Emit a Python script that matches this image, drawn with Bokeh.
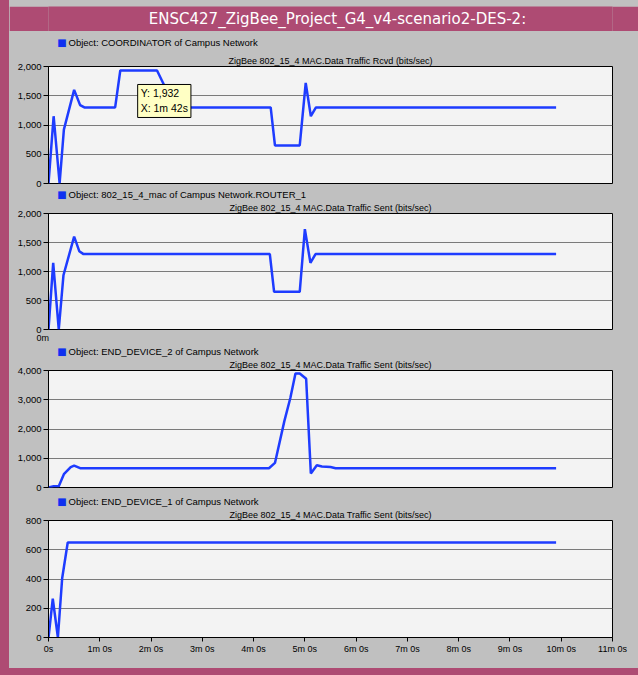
from bokeh.plotting import figure
from bokeh.models import (Label, FixedTicker, NumeralTickFormatter, Range1d, ColumnDataSource, Title)
from bokeh.layouts import column
from bokeh.embed import file_html
from bokeh.resources import INLINE

# ---------------- data ----------------
window_title = "ENSC427_ZigBee_Project_G4_v4-scenario2-DES-2:"

objects = [
    "Object: COORDINATOR of Campus Network",
    "Object: 802_15_4_mac of Campus Network.ROUTER_1",
    "Object: END_DEVICE_2 of Campus Network",
    "Object: END_DEVICE_1 of Campus Network",
]
statistics = [
    "ZigBee 802_15_4 MAC.Data Traffic Rcvd (bits/sec)",
    "ZigBee 802_15_4 MAC.Data Traffic Sent (bits/sec)",
    "ZigBee 802_15_4 MAC.Data Traffic Sent (bits/sec)",
    "ZigBee 802_15_4 MAC.Data Traffic Sent (bits/sec)",
]

# time in seconds, values in bits/sec
coord_t = [0, 6, 13, 18, 30, 37, 42, 78, 84, 127, 148, 260, 265, 294, 301, 307, 313, 594]
coord_v = [0, 1150, 0, 920, 1600, 1340, 1300, 1300, 1932, 1932, 1300, 1300, 650, 650, 1720, 1150, 1300, 1300]

router_t = [0, 5.5, 12, 17.5, 30, 36, 41, 259, 264, 294, 300, 306.5, 312.5, 594]
router_v = [0, 1150, 0, 935, 1600, 1350, 1300, 1300, 650, 650, 1730, 1150, 1300, 1300]

ed2_t = [0, 6, 12, 18, 26, 30, 37, 258, 265, 276, 283, 289, 294, 301.5, 307, 314, 320, 330, 336, 594]
ed2_v = [0, 40, 40, 455, 700, 750, 660, 660, 840, 2270, 3060, 3900, 3900, 3720, 480, 760, 720, 700, 660, 660]

ed1_t = [0, 5, 11, 16, 22.5, 594]
ed1_v = [0, 265, 0, 405, 650, 650]

y_max = [2000, 2000, 4000, 800]
y_step = [500, 500, 1000, 200]

x_ticks = [0, 60, 120, 180, 240, 300, 360, 420, 480, 540, 600, 660]
x_tick_labels = ["0s", "1m 0s", "2m 0s", "3m 0s", "4m 0s", "5m 0s",
                 "6m 0s", "7m 0s", "8m 0s", "9m 0s", "10m 0s", "11m 0s"]

tooltip_t = 102
tooltip_v = 1932
tooltip_text = "Y: 1,932\nX: 1m 42s"

# ---------------- style / layout ----------------
EDGE = 9            # pink window edge on the left
BOTTOM_EDGE = 7     # pink window edge at the bottom
W = 638 - EDGE
PINK = "#AE4B73"
GRAY = "#C0C0C0"
PLOT_BG = "#F3F3F3"
LINE = "#1E3CFF"
FONT = "Liberation Sans"
LEFT, RIGHT = 48 - EDGE, 26

series = [(coord_t, coord_v), (router_t, router_v), (ed2_t, ed2_v), (ed1_t, ed1_v)]
legend_h = [19, 12, 12, 12]
legend_y = [8, 6.5, 6.5, 6.5]
heights = [138, 145, 138, 161]
tops = [16, 12, 12, 12]
bottoms = [5, 16, 8, 31]


def blank(h, color):
    f = figure(width=W, height=h, x_range=Range1d(0, 1), y_range=Range1d(0, 1),
               x_axis_location=None, y_axis_location=None, toolbar_location=None,
               output_backend="svg", min_border_left=LEFT, min_border_right=RIGHT,
               min_border_top=0, min_border_bottom=0)
    f.background_fill_color = color
    f.border_fill_color = color
    f.outline_line_color = None
    f.xgrid.visible = False
    f.ygrid.visible = False
    return f


figs = [blank(6, "white")]

# title bar
tb = blank(25, PINK)
tb.add_layout(Label(x=289, y=12.5, x_units="screen", y_units="screen", text=window_title,
                    text_align="center", text_baseline="middle", text_color="white",
                    text_font="DejaVu Sans", text_font_size="15px"))
figs.append(tb)

for i in range(4):
    last = (i == 3)

    # object legend row
    lg = blank(legend_h[i], GRAY)
    lg.add_layout(Label(x=13.5, y=legend_y[i], x_units="screen", y_units="screen", text="■",
                        text_align="center", text_baseline="middle", text_color="#1030F0",
                        text_font="DejaVu Sans", text_font_size="10px"))
    lg.add_layout(Label(x=20, y=legend_y[i], x_units="screen", y_units="screen", text=objects[i],
                        text_align="left", text_baseline="middle", text_color="black",
                        text_font=FONT, text_font_size="9.5px"))
    figs.append(lg)

    p = figure(width=W, height=heights[i], x_range=Range1d(0, 660), y_range=Range1d(0, y_max[i]),
               output_backend="svg", toolbar_location=None,
               x_axis_location="below" if last else None,
               min_border_left=LEFT, min_border_right=RIGHT,
               min_border_top=tops[i], min_border_bottom=bottoms[i],
               title=None)
    p.background_fill_color = PLOT_BG
    p.border_fill_color = GRAY
    p.outline_line_color = "black"
    p.outline_line_width = 1

    p.xgrid.visible = False
    p.ygrid.grid_line_color = "#7A7A7A"
    p.ygrid.grid_line_width = 1
    p.ygrid.ticker = FixedTicker(ticks=list(range(0, y_max[i] + 1, y_step[i])))

    ya = p.yaxis[0]
    ya.ticker = FixedTicker(ticks=list(range(0, y_max[i] + 1, y_step[i])))
    ya.formatter = NumeralTickFormatter(format="0,0")
    ya.major_label_text_font = FONT
    ya.major_label_text_font_size = "9.5px"
    ya.major_label_text_color = "black"
    ya.major_tick_out = 5
    ya.major_tick_in = 0
    ya.minor_tick_out = 0
    ya.minor_tick_in = 0
    ya.major_label_standoff = 2
    ya.axis_line_color = "black"

    if last:
        xa = p.xaxis[0]
        xa.ticker = FixedTicker(ticks=x_ticks)
        xa.major_label_overrides = {t: l for t, l in zip(x_ticks, x_tick_labels)}
        xa.major_label_text_font = FONT
        xa.major_label_text_font_size = "9px"
        xa.major_label_text_color = "black"
        xa.major_tick_out = 4
        xa.major_tick_in = 0
        xa.minor_tick_out = 0
        xa.minor_tick_in = 0
        xa.major_label_standoff = 2
        xa.axis_line_color = "black"

    t, v = series[i]
    src = ColumnDataSource(data=dict(t=t, v=v))
    p.line("t", "v", source=src, line_color=LINE, line_width=2.5)

    p.add_layout(Title(text=statistics[i], align="center", text_font=FONT, text_font_size="9px",
                       text_font_style="normal", text_color="black", standoff=1), "above")

    if i == 0:
        p.add_layout(Label(x=tooltip_t, y=tooltip_v, x_offset=2, y_offset=-14,
                           text=tooltip_text, text_align="left", text_baseline="top",
                           text_color="black", text_font=FONT, text_font_size="10.5px",
                           text_line_height=1.25,
                           background_fill_color="#FFFFC4", border_line_color="black",
                           padding=3))
    if i == 1:
        p.add_layout(Title(text="0m", align="left", offset=-12, text_font=FONT,
                           text_font_size="9px", text_font_style="normal",
                           text_color="black", standoff=2), "below")
    figs.append(p)

layout = column(*figs, spacing=0,
                styles={"background-color": GRAY,
                        "border-left": f"{EDGE}px solid {PINK}",
                        "border-bottom": f"{BOTTOM_EDGE}px solid {PINK}"})
open("out.html", "w").write(file_html(layout, INLINE))
